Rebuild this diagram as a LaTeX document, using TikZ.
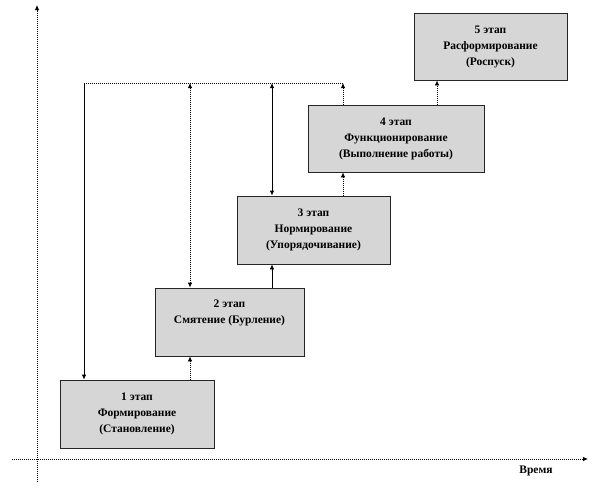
\documentclass[tikz,border=0pt]{standalone}
\usepackage{fontspec}
\setmainfont{Liberation Serif}
\usetikzlibrary{arrows.meta}
\begin{document}
\begin{tikzpicture}[x=1pt,y=-1pt,
  stagebox/.style={draw=black!85, line width=0.8pt, fill=gray!32, align=center,
    font=\bfseries\fontsize{11.5}{16}\selectfont, inner sep=0pt},
  dotln/.style={dash pattern=on 1pt off 1pt},
  conn/.style={line width=0.8pt},
  tip/.style={-{Latex[length=5pt,width=4.5pt]}},
  both/.style={{Latex[length=5pt,width=4.5pt]}-{Latex[length=5pt,width=4.5pt]}}]
\useasboundingbox (0,0) rectangle (592,496);
% axes
\coordinate (ybot) at (37,482);
\coordinate (ytop) at (37,5);
\coordinate (xl) at (12,459);
\coordinate (xr) at (588,459);
\draw[conn,dotln,tip] (ybot) -- (ytop);
\draw[conn,dotln,tip] (xl) -- (xr);
\node[font=\bfseries\fontsize{11.5}{12}\selectfont] (tlabel) at (536,471) {Время};
% boxes
\node[stagebox, minimum width=154, minimum height=68] (b1) at (137,414) {1 этап\\Формирование\\(Становление)};
\node[stagebox, minimum width=149, minimum height=68] (b2) at (229.5,322) {2 этап\\Смятение (Бурление)\\\strut};
\node[stagebox, minimum width=153, minimum height=68] (b3) at (313.5,230) {3 этап\\Нормирование\\(Упорядочивание)};
\node[stagebox, minimum width=176, minimum height=67] (b4) at (396,138.5) {4 этап\\Функционирование\\(Выполнение работы)};
\node[stagebox, minimum width=153, minimum height=67] (b5) at (490.5,46.5) {5 этап\\Расформирование\\(Роспуск)};
% top frame line
\coordinate (tl) at (84,83);
\coordinate (t190) at (190,83);
\coordinate (t272) at (272,83);
\coordinate (tr) at (343,83);
\coordinate (t437) at (437,83);
\draw[conn,dotln] (tl) -- (tr);
\draw[conn,tip] (tl) -- (tl |- b1.north);
\draw[conn,dotln,both] (t190) -- (t190 |- b2.north);
\draw[conn,both] (t272) -- (t272 |- b3.north);
\draw[conn,dotln,tip] (tr |- b4.north) -- (tr);
% stage-to-stage
\draw[conn,dotln,tip] (t190 |- b1.north) -- (t190 |- b2.south);
\draw[conn,tip] (t272 |- b2.north) -- (t272 |- b3.south);
\draw[conn,dotln,tip] (tr |- b3.north) -- (tr |- b4.south);
\draw[conn,dotln,tip] (t437 |- b4.north) -- (t437 |- b5.south);
\end{tikzpicture}
\end{document}
